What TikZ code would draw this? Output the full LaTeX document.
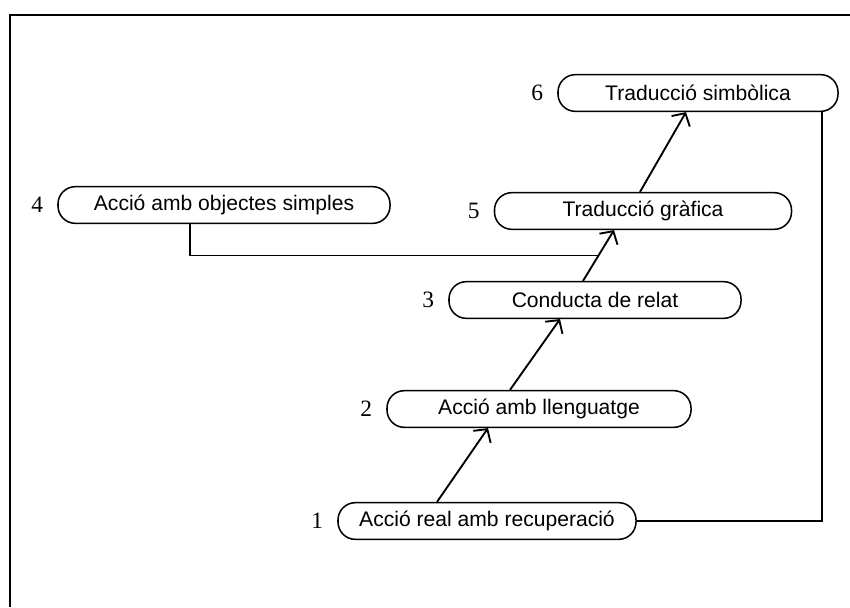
\documentclass[tikz,border=0pt]{standalone}
\usepackage{fontspec}
\setmainfont{Liberation Serif}
\setsansfont{Liberation Sans}
\usetikzlibrary{positioning, arrows.meta, calc}

\begin{document}
\begin{tikzpicture}[
  x=0.03cm, y=-0.03cm,
  label distance=0.3cm,
  stage/.style={draw, line width=1.3pt, rounded corners=0.52cm,
    minimum height=1.1cm, inner sep=0pt,
    font=\sffamily\fontsize{18}{21}\selectfont},
  num/.style={font=\fontsize{20}{23}\selectfont},
  arr/.style={-{Straight Barb[length=8pt, width=18pt]}, line width=1.6pt},
  link/.style={line width=1.1pt},
]
  \useasboundingbox (0,0) rectangle (850,607);
  % frame
  \draw[line width=1.2pt] (10,607) -- (10,15) -- (850,15);

  \node[stage, minimum width=8.94cm, label={[num]left:1}] (n1) at (487,521) {Acció real amb recuperació};
  \node[stage, minimum width=9.12cm, label={[num]left:2}] (n2) at (539,409) {Acció amb llenguatge};
  \node[stage, minimum width=8.76cm, label={[num]left:3}] (n3) at (595,300) {Conducta de relat};
  \node[stage, minimum width=9.96cm, label={[num]left:4}] (n4) at (224,205) {Acció amb objectes simples};
  \node[stage, minimum width=8.91cm, label={[num]left:5}] (n5) at (643,211) {Traducció gràfica};
  \node[stage, minimum width=8.40cm, label={[num]left:6}] (n6) at (698,93)  {Traducció simbòlica};

  % ends of the arrows
  \coordinate (t1) at ($(n1.north)+(-50,0)$);
  \coordinate (b2) at ($(n2.south)+(-51,0)$);
  \coordinate (t2) at ($(n2.north)+(-29,0)$);
  \coordinate (b3) at ($(n3.south)+(-35,0)$);
  \coordinate (t3) at ($(n3.north)+(-12,0)$);
  \coordinate (b5) at ($(n5.south)+(-29,0)$);
  \coordinate (t5) at ($(n5.north)+(-3,0)$);
  \coordinate (b6) at ($(n6.south)+(-12,0)$);
  \coordinate (j)  at ($(t3)!0.5!(b5)$);

  \draw[arr] (t1) -- (b2);
  \draw[arr] (t2) -- (b3);
  \draw[arr] (t3) -- (b5);
  \draw[arr] (t5) -- (b6);

  \draw[link] ($(n4.south)+(-34,0)$) |- (j);
  \draw[link] (n1.east) -| ($(n6.south)+(124,0)$);
\end{tikzpicture}
\end{document}
